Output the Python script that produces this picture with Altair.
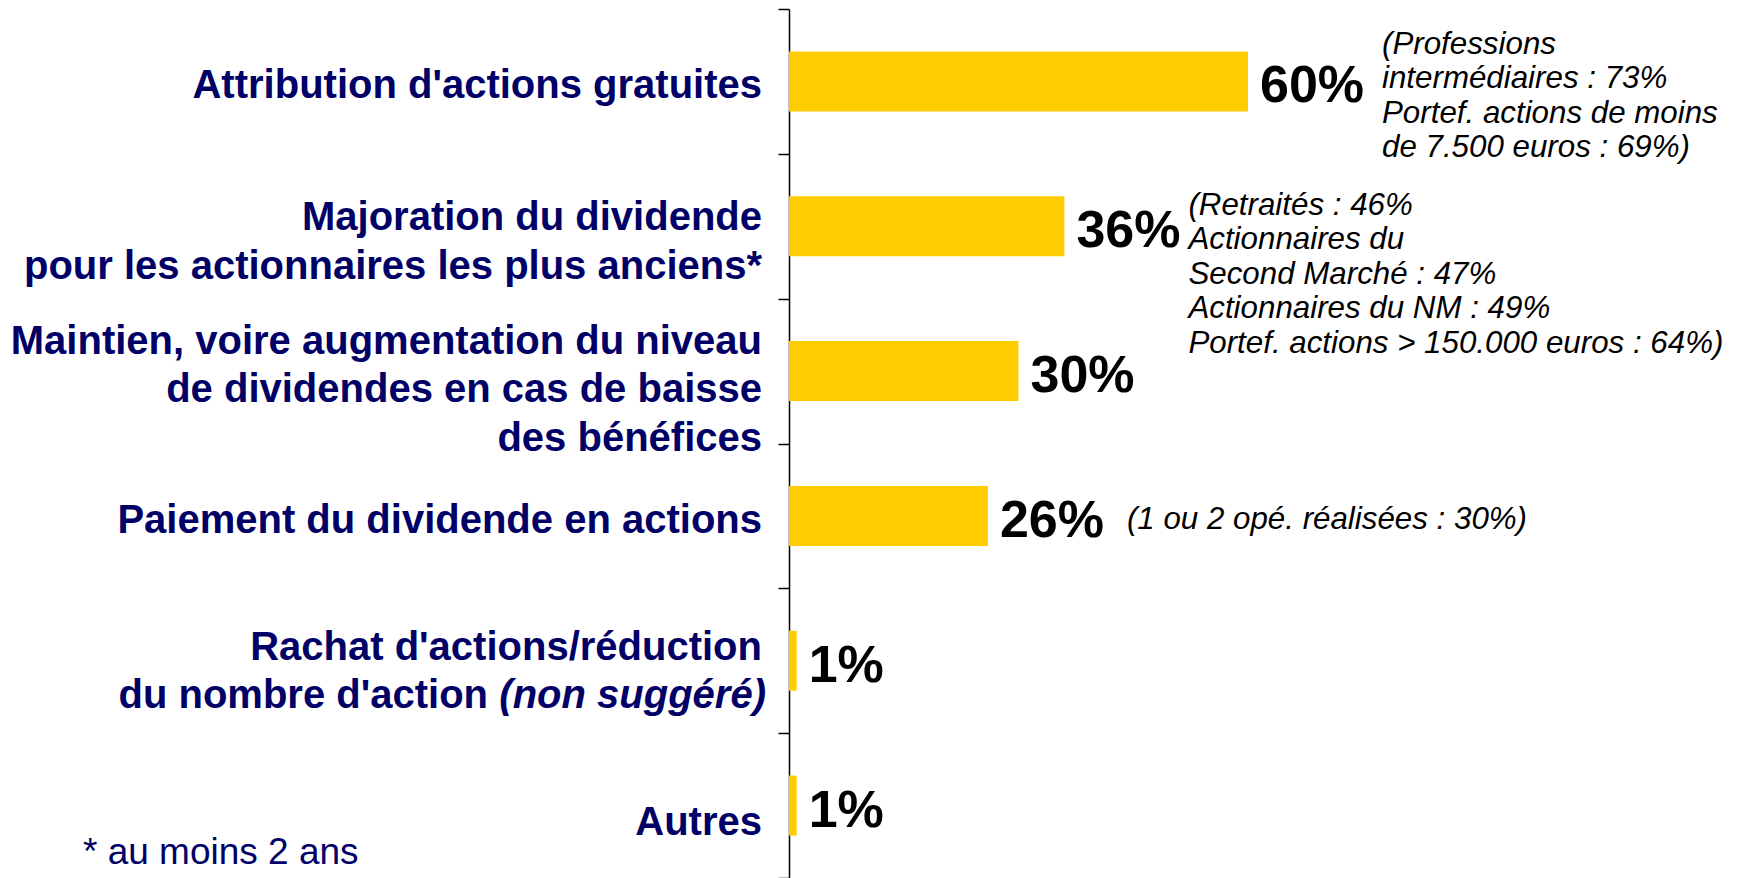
import altair as alt
import pandas as pd

# ---------------- data ----------------
categories = [
    "Attribution d'actions gratuites",
    "Majoration du dividende pour les actionnaires les plus anciens*",
    "Maintien, voire augmentation du niveau de dividendes en cas de baisse des bénéfices",
    "Paiement du dividende en actions",
    "Rachat d'actions/réduction du nombre d'action (non suggéré)",
    "Autres",
]
values = [60, 36, 30, 26, 1, 1]
value_labels = ["60%", "36%", "30%", "26%", "1%", "1%"]
label_lines = [
    ["Attribution d'actions gratuites"],
    ["Majoration du dividende", "pour les actionnaires les plus anciens*"],
    ["Maintien, voire augmentation du niveau", "de dividendes en cas de baisse", "des bénéfices"],
    ["Paiement du dividende en actions"],
    ["Rachat d'actions/réduction", "du nombre d'action"],
    ["Autres"],
]
italic_suffix = "(non suggéré)"
note_1 = ["(Professions", "intermédiaires : 73%", "Portef. actions de moins", "de 7.500 euros : 69%)"]
note_2 = ["(Retraités : 46%", "Actionnaires du", "Second Marché : 47%",
          "Actionnaires du NM : 49%", "Portef. actions > 150.000 euros : 64%)"]
note_4 = ["(1 ou 2 opé. réalisées : 30%)"]
footnote = "* au moins 2 ans"

# ---------------- layout ----------------
W, H = 765, 869
N = len(categories)
STEP = H / N
BAR_H = 60
LABEL_LH = 48.5
NOTE_LH = 34.5
label_shift = [5, 16, 19, 5, 11, 17]
NAVY = "#000066"
FONT = "Liberation Sans"

bars_df = pd.DataFrame({
    "cat": categories,
    "value": values,
    "label": value_labels,
    "idx": list(range(N)),
})
bars_df["x0"] = 0
bars_df["y0"] = bars_df["idx"] + 0.5 - BAR_H / 2 / STEP
bars_df["y1"] = bars_df["idx"] + 0.5 + BAR_H / 2 / STEP
bars_df["yc"] = bars_df["idx"] + 0.5 + 5 / STEP

rows = []
for i, lines in enumerate(label_lines):
    n = len(lines)
    for k, t in enumerate(lines):
        y = i + 0.5 + (label_shift[i] + (k - (n - 1) / 2) * LABEL_LH) / STEP
        part = "pre" if (i == 4 and k == n - 1) else "main"
        rows.append({"text": t, "y": y, "x": 0, "part": part})
lab_df = pd.DataFrame(rows)
ital_df = lab_df[lab_df.part == "pre"].copy()
ital_df["text"] = italic_suffix


def note_df(lines, idx, shift):
    n = len(lines)
    return pd.DataFrame({
        "text": lines,
        "y": [idx + 0.5 + (shift + (k - (n - 1) / 2) * NOTE_LH) / STEP for k in range(n)],
        "x": [values[idx]] * n,
    })


n1 = note_df(note_1, 0, 15)
n2 = note_df(note_2, 1, 48.5)
n4 = note_df(note_4, 3, 4)

xs = alt.Scale(domain=[0, 100], nice=False, zero=True)
ys = alt.Scale(domain=[0, N], reverse=True, nice=False, zero=False)
yaxis = alt.Axis(values=list(range(N + 1)), labels=False, ticks=True, tickSize=11,
                 tickColor="black", tickWidth=1.5, domainColor="black", domainWidth=1.5,
                 grid=False, title=None)


def Y(f):
    return alt.Y(f + ":Q", scale=ys, axis=yaxis, title=None)


def X(f):
    return alt.X(f + ":Q", scale=xs, axis=None, title=None)


bars = alt.Chart(bars_df).mark_bar(color="#FFCC00").encode(
    x=X("x0"), x2="value", y=Y("y0"), y2="y1")
pct = alt.Chart(bars_df).mark_text(align="left", baseline="middle", dx=12, font=FONT,
                                   fontSize=52, fontWeight="bold", color="black").encode(
    x=X("value"), y=Y("yc"), text="label:N")

lab_main = alt.Chart(lab_df[lab_df.part == "main"]).mark_text(
    align="right", baseline="middle", dx=-27, font=FONT, fontSize=40, fontWeight="bold",
    color=NAVY).encode(x=X("x"), y=Y("y"), text="text:N")
lab_pre = alt.Chart(lab_df[lab_df.part == "pre"]).mark_text(
    align="right", baseline="middle", dx=-301, font=FONT, fontSize=40, fontWeight="bold",
    color=NAVY).encode(x=X("x"), y=Y("y"), text="text:N")
lab_ital = alt.Chart(ital_df).mark_text(
    align="right", baseline="middle", dx=-23, font=FONT, fontSize=40, fontWeight="bold",
    fontStyle="italic", color=NAVY).encode(x=X("x"), y=Y("y"), text="text:N")


def note_layer(df, dx):
    return alt.Chart(df).mark_text(align="left", baseline="middle", dx=dx, font=FONT,
                                   fontSize=31.3, fontStyle="italic", color="black").encode(
        x=X("x"), y=Y("y"), text="text:N")


notes = [note_layer(n1, 134), note_layer(n2, 124), note_layer(n4, 139)]

foot = alt.Chart(pd.DataFrame({"t": [footnote]})).mark_text(
    align="left", baseline="middle", font=FONT, fontSize=37, color=NAVY).encode(
    x=alt.value(-706), y=alt.value(844), text="t:N")

chart = alt.layer(bars, pct, lab_main, lab_pre, lab_ital, *notes, foot).properties(
    width=W, height=H, autosize=alt.AutoSizeParams(type="none"),
    padding={"left": 781, "top": 1, "right": 176, "bottom": 0},
    background="white",
).configure_view(stroke=None)

chart.save("out.html", embed_options={"renderer": "svg", "actions": False})
